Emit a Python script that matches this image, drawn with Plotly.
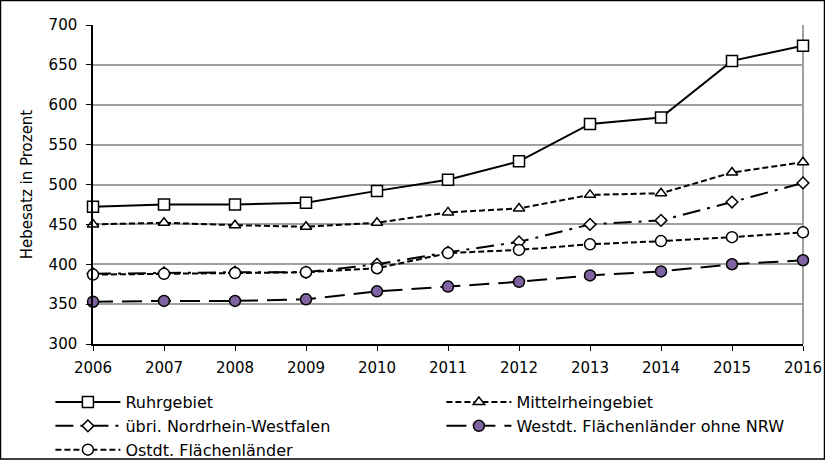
import plotly.graph_objects as go

years = [2006, 2007, 2008, 2009, 2010, 2011, 2012, 2013, 2014, 2015, 2016]
ruhrgebiet = [472, 475, 475, 477, 492, 506, 529, 576, 584, 655, 674]
mittelrhein = [450, 452, 449, 447, 452, 465, 470, 487, 489, 515, 528]
uebri_nrw = [388, 389, 390, 390, 400, 415, 428, 450, 455, 478, 502]
westdt = [353, 354, 354, 356, 366, 372, 378, 386, 391, 400, 405]
ostdt = [387, 388, 389, 390, 395, 414, 418, 425, 429, 434, 440]

names = ["Ruhrgebiet", "Mittelrheingebiet", "übri. Nordrhein-Westfalen",
         "Westdt. Flächenländer ohne NRW", "Ostdt. Flächenländer"]

FONT = "DejaVu Sans"
fig = go.Figure()

def add(y, name, dash, symbol, size, fill):
    fig.add_trace(go.Scatter(
        x=years, y=y, name=name, mode="lines+markers",
        line=dict(color="black", width=2, dash=dash),
        marker=dict(symbol=symbol, size=size, color=fill,
                    line=dict(color="black", width=1.5)),
        cliponaxis=False,
    ))

add(ruhrgebiet, names[0], "solid", "square", 11, "white")
add(mittelrhein, names[1], "6px,3px", "triangle-up", 10, "white")
add(uebri_nrw, names[2], "18px,7px,3px,7px", "diamond", 9, "white")
add(westdt, names[3], "20px,9px", "circle", 11, "#8064A2")
add(ostdt, names[4], "6px,3px", "circle", 11, "white")

fig.update_layout(
    width=825, height=460,
    margin=dict(l=93, r=22, t=25, b=116, autoexpand=False),
    paper_bgcolor="white", plot_bgcolor="white",
    font=dict(family=FONT, size=15, color="black"),
    showlegend=True,
    legend=dict(
        orientation="h", x=-0.060, xanchor="left", y=-0.129, yanchor="top",
        entrywidth=311, entrywidthmode="pixels", itemwidth=65,
        font=dict(family=FONT, size=16, color="black"),
        traceorder="normal", bgcolor="rgba(0,0,0,0)",
        tracegroupgap=0,
    ),
    xaxis=dict(
        range=[2006, 2016], tickmode="array", tickvals=years,
        ticktext=[str(v) for v in years],
        showline=True, linecolor="black", linewidth=1.5,
        ticks="outside", ticklen=5, tickcolor="black", tickwidth=1,
        showgrid=False, zeroline=False, ticklabelstandoff=4,
    ),
    yaxis=dict(
        range=[300, 700], tickmode="linear", tick0=300, dtick=50,
        showline=True, linecolor="black", linewidth=1.5,
        ticks="outside", ticklen=5, tickcolor="black", tickwidth=1,
        showgrid=True, gridcolor="#a0a0a0", gridwidth=1.5, zeroline=False,
        ticklabelstandoff=6,
        title=dict(text="Hebesatz in Prozent", font=dict(family=FONT, size=15),
                   standoff=12),
    ),
    shapes=[
        dict(type="line", xref="paper", yref="paper", x0=1, x1=1, y0=0, y1=1,
             line=dict(color="#808080", width=1.5), layer="below"),
        dict(type="rect", xref="paper", yref="paper",
             x0=-0.1303, x1=1.0303, y0=-0.3605, y1=1.0768,
             line=dict(color="black", width=1.5)),
    ],
)

fig.write_html(
    "out.html",
    config={"displayModeBar": False},
    post_script="document.body.style.margin='0px';document.body.style.overflow='hidden';",
)
